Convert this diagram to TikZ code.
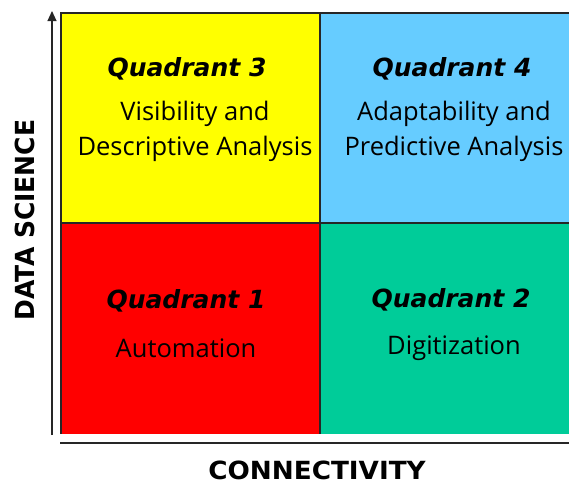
\documentclass[tikz,border=0pt]{standalone}
\usepackage{fontspec}
\setmainfont{Open Sans}
\newfontfamily\headfont{DejaVu Sans}
\usetikzlibrary{arrows.meta}
\definecolor{qyellow}{HTML}{FFFF00}
\definecolor{qblue}{HTML}{66CCFF}
\definecolor{qred}{HTML}{FF0000}
\definecolor{qgreen}{HTML}{00CC99}
\tikzset{
  cell/.style={draw=black!85, line width=1.2pt},
  qtitle/.style={font=\headfont\bfseries\itshape\fontsize{25}{28}\selectfont, inner sep=0pt, anchor=center},
  qbody/.style={font=\fontsize{25.5}{35}\selectfont, align=center, inner sep=0pt, anchor=center},
  axislabel/.style={font=\headfont\bfseries\fontsize{25}{28}\selectfont, inner sep=0pt, xscale=1.05},
  axisline/.style={line width=1.1pt, draw=black!85}
}
\begin{document}
\begin{tikzpicture}[x=1pt,y=-1pt]
\useasboundingbox (0,0) rectangle (569,485);
\begin{scope}
\clip (0,0) rectangle (569,485);
\fill[qyellow] (61,13) rectangle (320,223);
\fill[qblue] (320,13) rectangle (582,223);
\fill[qred] (61,223) rectangle (320,434);
\fill[qgreen] (320,223) rectangle (582,434);
\draw[cell] (61,434) -- (61,13) -- (582,13);
\draw[cell] (320,13) -- (320,434);
\draw[cell] (61,223) -- (582,223);
\coordinate (hs) at (60,443);
\coordinate (he) at (575,443);
\draw[axisline] (hs) -- (he);
\end{scope}
\coordinate (vs) at (52,435);
\coordinate (ve) at (52,11);
\draw[axisline, -{Triangle[length=10pt,width=9pt]}] (vs) -- (ve);

\node[qtitle] (q3) at (187,69) {Quadrant 3};
\node[qbody] (t3) at (195,131) {Visibility and\\Descriptive Analysis};
\node[qtitle] (q4) at (452,69) {Quadrant 4};
\node[qbody] (t4) at (454,131) {Adaptability and\\Predictive Analysis};
\node[qtitle] (q1) at (186,301) {Quadrant 1};
\node[qbody] (t1) at (186,348) {Automation};
\node[qtitle] (q2) at (451,300) {Quadrant 2};
\node[qbody] (t2) at (454,348) {Digitization};

\node[axislabel, rotate=90] (ds) at (25,220) {DATA SCIENCE};
\node[axislabel] (cn) at (317,470) {CONNECTIVITY};
\end{tikzpicture}
\end{document}
